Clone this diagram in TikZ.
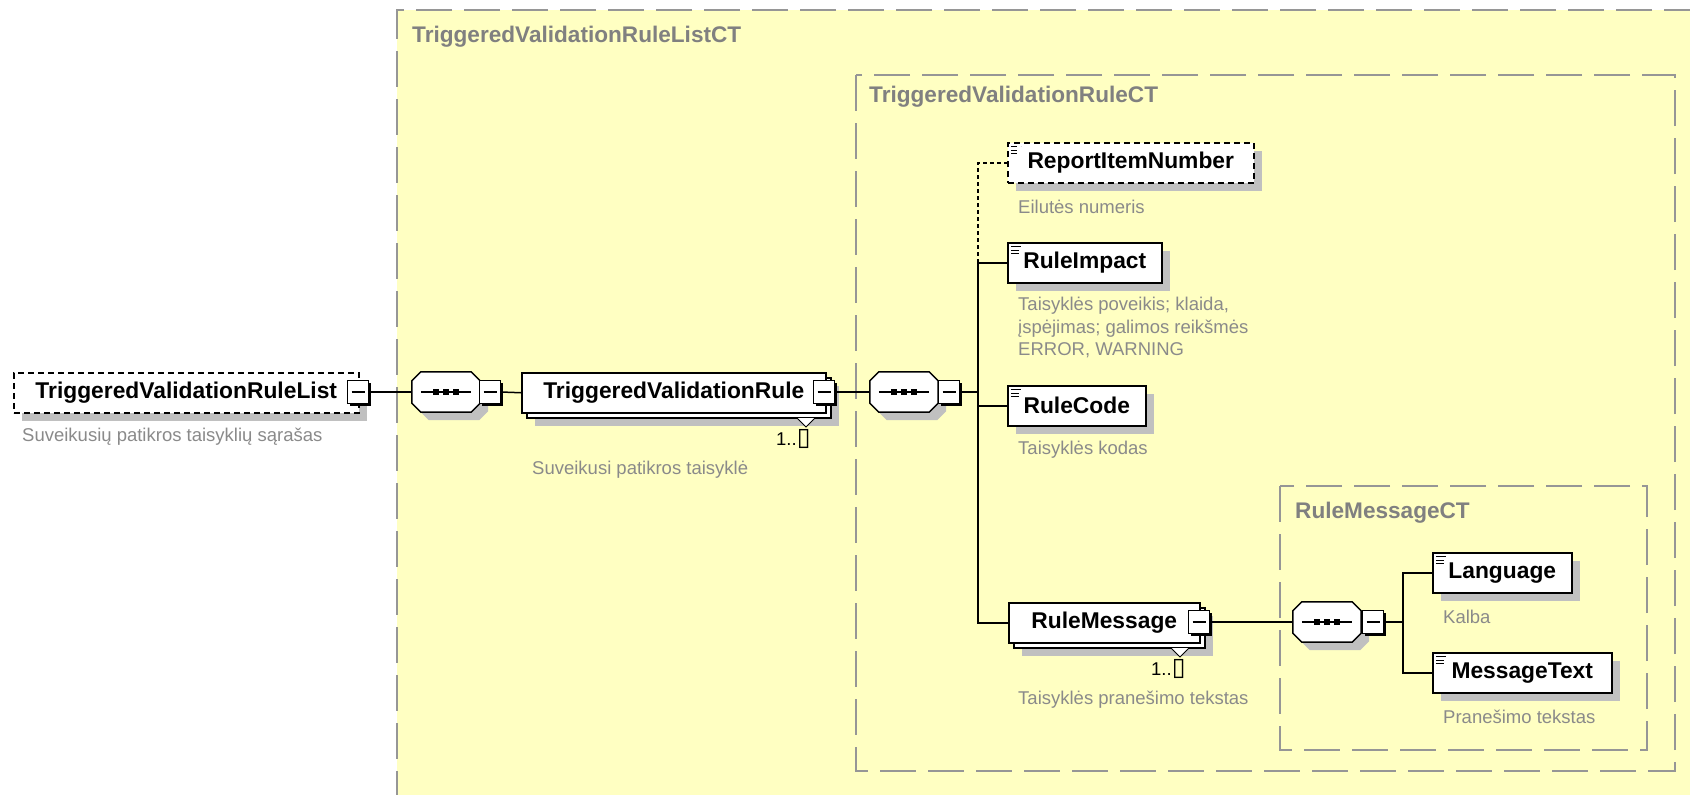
\documentclass[tikz,border=0pt]{standalone}
\usepackage{fontspec}
\setmainfont{Liberation Sans}
\newfontfamily\symfont{DejaVu Sans}
\usetikzlibrary{shadows}
\definecolor{bgyellow}{RGB}{255,255,194}
\definecolor{ctgray}{RGB}{150,150,150}
\definecolor{hdgray}{RGB}{128,128,128}
\definecolor{dsgray}{RGB}{138,138,138}
\definecolor{shgray}{RGB}{192,192,192}
\def\octpath#1{([xshift=9pt]#1.north west) -- ([xshift=-9pt]#1.north east) -- ([yshift=-9pt]#1.north east) -- ([yshift=9pt]#1.south east) -- ([xshift=-9pt]#1.south east) -- ([xshift=9pt]#1.south west) -- ([yshift=9pt]#1.south west) -- ([yshift=-9pt]#1.north west) -- cycle}
\newcommand\seqsymbol[1]{%
  \begin{scope}[transform canvas={shift={(8pt,-8pt)}}]\fill[shgray] \octpath{#1};\end{scope}
  \draw[line width=1.5pt, fill=white] \octpath{#1};
  \draw[line width=1.5pt] ([xshift=9pt]#1.west) -- ([xshift=-9pt]#1.east);
  \foreach \d in {-10,0,10} \fill ([xshift=\d pt]#1.center) +(-2.6pt,-2.6pt) rectangle +(2.6pt,2.6pt);
}
\begin{document}
\begin{tikzpicture}[x=1pt,y=-1pt,
  ctline/.style={draw=ctgray, line width=2pt, dash pattern=on 36pt off 12pt},
  hdr/.style={anchor=west, text=hdgray, font=\fontsize{22.6}{26}\selectfont\bfseries, inner sep=0},
  desc/.style={anchor=west, text=dsgray, font=\fontsize{18.5}{22.5}\selectfont, inner sep=0},
  mult/.style={anchor=west, text=black, font=\fontsize{18.5}{22}\selectfont, inner sep=0},
  elem/.style={draw, fill=white, line width=1.5pt, minimum height=40pt, inner sep=0, anchor=north west,
    font=\fontsize{22.8}{26}\selectfont\bfseries,
    drop shadow={shadow xshift=8pt, shadow yshift=-8pt, fill=shgray, opacity=1}},
  multi/.style={draw, fill=white, line width=1.5pt, minimum height=40pt, inner sep=0, anchor=north west,
    font=\fontsize{22.8}{26}\selectfont\bfseries,
    drop shadow={shadow xshift=13pt, shadow yshift=-13pt, fill=shgray, opacity=1},
    copy shadow={shadow xshift=5pt, shadow yshift=-5pt}},
  simple/.style={path picture={
    \draw[line width=1.3pt] ([shift={(3pt,-4pt)}]path picture bounding box.north west) -- ++(10pt,0pt);
    \draw[line width=1.3pt] ([shift={(3pt,-7.5pt)}]path picture bounding box.north west) -- ++(8pt,0pt);
    \draw[line width=1.3pt] ([shift={(3pt,-11pt)}]path picture bounding box.north west) -- ++(8pt,0pt);}},
  optional/.style={dash pattern=on 6pt off 4pt},
  minusbox/.style={draw, fill=white, line width=1.3pt, minimum width=21pt, minimum height=23pt, inner sep=0,
    drop shadow={shadow xshift=2pt, shadow yshift=-2pt, fill=black, opacity=1},
    path picture={\draw[line width=1.3pt] ([xshift=4pt]path picture bounding box.west) -- ([xshift=-4pt]path picture bounding box.east);}},
  seqn/.style={minimum width=68pt, minimum height=40pt, inner sep=0},
  conn/.style={line width=1.5pt},
  vmark/.style={fill=white, draw=black, line width=1pt}
]
\useasboundingbox (0,0) rectangle (1690,795);
\fill[white] (0,0) rectangle (1690,795);
% complex type containers
\fill[bgyellow] (397,10) rectangle (1690,795);
\draw[ctline] (1700,10) -- (397,10) -- (397,800);
\draw[ctline] (856,75) rectangle (1675,771);
\draw[ctline] (1280,486) rectangle (1647,750);
\node[hdr] (h1) at (412,37) {TriggeredValidationRuleListCT};
\node[hdr] (h2) at (869,97) {TriggeredValidationRuleCT};
\node[hdr] (h3) at (1295,513) {RuleMessageCT};

% root
\node[elem, optional, minimum width=345pt] (tvrl) at (13,372) {TriggeredValidationRuleList};
\node[minusbox] (tvrlm) at (358,392) {};
\node[desc] (d0) at (22,437) {Suveikusių patikros taisyklių sąrašas};

% sequence 1
\node[seqn] (seq1) at (446,392) {};
\seqsymbol{seq1}
\node[minusbox] (seq1m) at (490,392) {};

% TriggeredValidationRule
\node[multi, minimum width=304pt] (tvr) at (521,372) {TriggeredValidationRule};
\node[minusbox] (tvrm) at (824,392) {};
\filldraw[vmark] (797,418) -- (806,427) -- (815,418);
\node[mult] (m1) at (776,439) {1..{\symfont\fontsize{25}{25}\selectfont ▯}};
\node[desc] (d1) at (532,470) {Suveikusi patikros taisyklė};

% sequence 2
\node[seqn] (seq2) at (904,392) {};
\seqsymbol{seq2}
\node[minusbox] (seq2m) at (949,392) {};

% children of TriggeredValidationRuleCT
\node[elem, simple, optional, minimum width=246pt] (rin) at (1007,142) {ReportItemNumber};
\node[desc] (d2) at (1018,207) {Eilutės numeris};
\node[elem, simple, minimum width=154pt] (ri) at (1007,242) {RuleImpact};
\node[desc, anchor=north west, align=left] (d3) at (1018,297) {Taisyklės poveikis; klaida,\\įspėjimas; galimos reikšmės\\ERROR, WARNING};
\node[elem, simple, minimum width=138pt] (rc) at (1007,385) {RuleCode};
\node[desc] (d4) at (1018,450) {Taisyklės kodas};
\node[multi, minimum width=191pt] (rm) at (1008,602) {RuleMessage};
\node[minusbox] (rmm) at (1199,622) {};
\filldraw[vmark] (1171,648) -- (1180,657) -- (1189,648);
\node[mult] (m2) at (1151,669) {1..{\symfont\fontsize{25}{25}\selectfont ▯}};
\node[desc] (d5) at (1018,700) {Taisyklės pranešimo tekstas};

% sequence 3
\node[seqn] (seq3) at (1327,622) {};
\seqsymbol{seq3}
\node[minusbox] (seq3m) at (1373,622) {};
\node[elem, simple, minimum width=139pt] (lang) at (1432,552) {Language};
\node[desc] (d6) at (1443,617) {Kalba};
\node[elem, simple, minimum width=179pt] (mt) at (1432,652) {MessageText};
\node[desc] (d7) at (1443,717) {Pranešimo tekstas};

% connectors
\draw[conn] (tvrlm.east) -- (seq1.west);
\draw[conn] (seq1m.east) -- (tvr.west);
\draw[conn] (tvrm.east) -- (seq2.west);
\coordinate (j2) at (978,392);
\draw[conn] (seq2m.east) -- (j2);
\draw[conn] (j2) |- (ri.west);
\draw[conn] (j2) |- (rc.west);
\draw[conn] (j2) |- (rm.west);
\draw[conn, dash pattern=on 4pt off 3pt] (ri.west -| j2) |- (rin.west);
\draw[conn] (rmm.east) -- (seq3.west);
\coordinate (j3) at (1403,622);
\draw[conn] (seq3m.east) -- (j3);
\draw[conn] (j3) |- (lang.west);
\draw[conn] (j3) |- (mt.west);
\end{tikzpicture}
\end{document}
